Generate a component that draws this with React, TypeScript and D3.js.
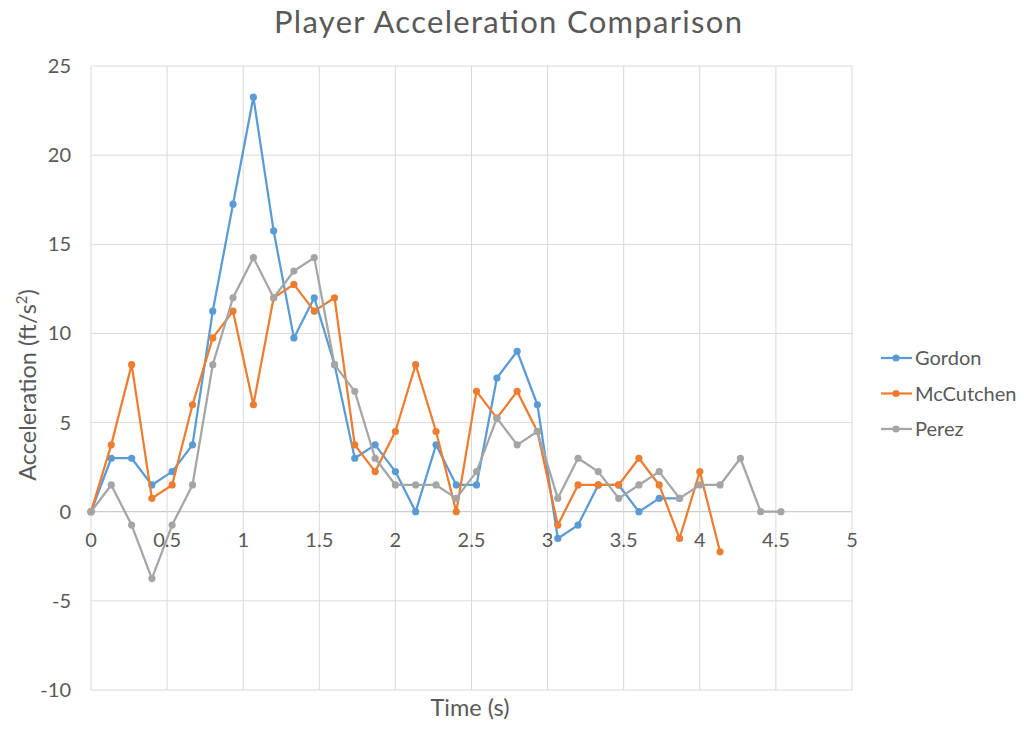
import React from "react";
import * as d3 from "d3";

const times = [0, 0.133, 0.267, 0.4, 0.533, 0.667, 0.8, 0.933, 1.067, 1.2, 1.333, 1.467, 1.6, 1.733, 1.867, 2.0, 2.133, 2.267, 2.4, 2.533, 2.667, 2.8, 2.933, 3.067, 3.2, 3.333, 3.467, 3.6, 3.733, 3.867, 4.0, 4.133, 4.267, 4.4, 4.533];

const gordon = [0, 3, 3, 1.5, 2.25, 3.75, 11.25, 17.25, 23.25, 15.75, 9.75, 12, 8.25, 3, 3.75, 2.25, 0, 3.75, 1.5, 1.5, 7.5, 9, 6, -1.5, -0.75, 1.5, 1.5, 0, 0.75, 0.75];
const mccutchen = [0, 3.75, 8.25, 0.75, 1.5, 6, 9.75, 11.25, 6, 12, 12.75, 11.25, 12, 3.75, 2.25, 4.5, 8.25, 4.5, 0, 6.75, 5.25, 6.75, 4.5, -0.75, 1.5, 1.5, 1.5, 3, 1.5, -1.5, 2.25, -2.25];
const perez = [0, 1.5, -0.75, -3.75, -0.75, 1.5, 8.25, 12, 14.25, 12, 13.5, 14.25, 8.25, 6.75, 3, 1.5, 1.5, 1.5, 0.75, 2.25, 5.25, 3.75, 4.5, 0.75, 3, 2.25, 0.75, 1.5, 2.25, 0.75, 1.5, 1.5, 3, 0, 0];

const seriesNames = ["Gordon", "McCutchen", "Perez"];
const seriesColors = ["#5B9BD5", "#ED7D31", "#A5A5A5"];
const xTicks = [0, 0.5, 1, 1.5, 2, 2.5, 3, 3.5, 4, 4.5, 5];
const yTicks = [-10, -5, 0, 5, 10, 15, 20, 25];

const W = 1024;
const H = 733;
const plot = { left: 91, right: 852, top: 66, bottom: 690 };
const FONT = "Lato, 'Open Sans', sans-serif";
const TEXT = "#595959";

export default function App() {
  const x = d3.scaleLinear().domain([0, 5]).range([plot.left, plot.right]);
  const y = d3.scaleLinear().domain([-10, 25]).range([plot.bottom, plot.top]);
  const line = d3
    .line<[number, number]>()
    .x((d) => x(d[0]))
    .y((d) => y(d[1]));

  const series = [gordon, mccutchen, perez].map((vals) =>
    vals.map((v, i) => [times[i], v] as [number, number])
  );

  return (
    <svg
      width={W}
      height={H}
      style={{ position: "absolute", left: 0, top: 0, background: "#fff" }}
      fontFamily={FONT}
    >
      <rect x={0} y={0} width={W} height={H} fill="#fff" />
      <text x={508} y={33} textAnchor="middle" fontSize={31} fill={TEXT} textLength={468} lengthAdjust="spacing">
        Player Acceleration Comparison
      </text>
      {/* grid */}
      {yTicks.map((t) => (
        <line key={"gy" + t} x1={plot.left} x2={plot.right} y1={y(t)} y2={y(t)} stroke={t === 0 ? "#BFBFBF" : "#D9D9D9"} strokeWidth={1} />
      ))}
      {xTicks.map((t) => (
        <line key={"gx" + t} x1={x(t)} x2={x(t)} y1={plot.top} y2={plot.bottom} stroke="#D9D9D9" strokeWidth={1} />
      ))}
      {/* y tick labels */}
      {yTicks.map((t) => (
        <text key={"ty" + t} x={71} y={y(t)} dy="0.35em" textAnchor="end" fontSize={20} fill={TEXT}>
          {t}
        </text>
      ))}
      {/* x tick labels */}
      {xTicks.map((t) => (
        <text key={"tx" + t} x={x(t)} y={y(0) + 28} dy="0.35em" textAnchor="middle" fontSize={20} fill={TEXT}>
          {t}
        </text>
      ))}
      {/* axis titles */}
      <text x={470} y={716} textAnchor="middle" fontSize={23.5} fill={TEXT}>
        Time (s)
      </text>
      <text transform={`translate(36, 385) rotate(-90)`} textAnchor="middle" fontSize={23.5} fill={TEXT}>
        Acceleration (ft/s
        <tspan fontSize={15} dy={-9}>2</tspan>
        <tspan dy={9}>)</tspan>
      </text>
      {/* series */}
      {series.map((pts, si) => (
        <g key={"s" + si}>
          <path d={line(pts) || ""} fill="none" stroke={seriesColors[si]} strokeWidth={2.25} strokeLinejoin="round" />
          {pts.map((p, i) => (
            <circle key={i} cx={x(p[0])} cy={y(p[1])} r={3.6} fill={seriesColors[si]} />
          ))}
        </g>
      ))}
      {/* legend */}
      {seriesNames.map((n, i) => {
        const ly = 358 + i * 35.5;
        return (
          <g key={"l" + n}>
            <line x1={881} x2={912} y1={ly} y2={ly} stroke={seriesColors[i]} strokeWidth={2.25} />
            <circle cx={896} cy={ly} r={3.6} fill={seriesColors[i]} />
            <text x={915} y={ly} dy="0.35em" fontSize={20} fill={TEXT}>
              {n}
            </text>
          </g>
        );
      })}
    </svg>
  );
}
